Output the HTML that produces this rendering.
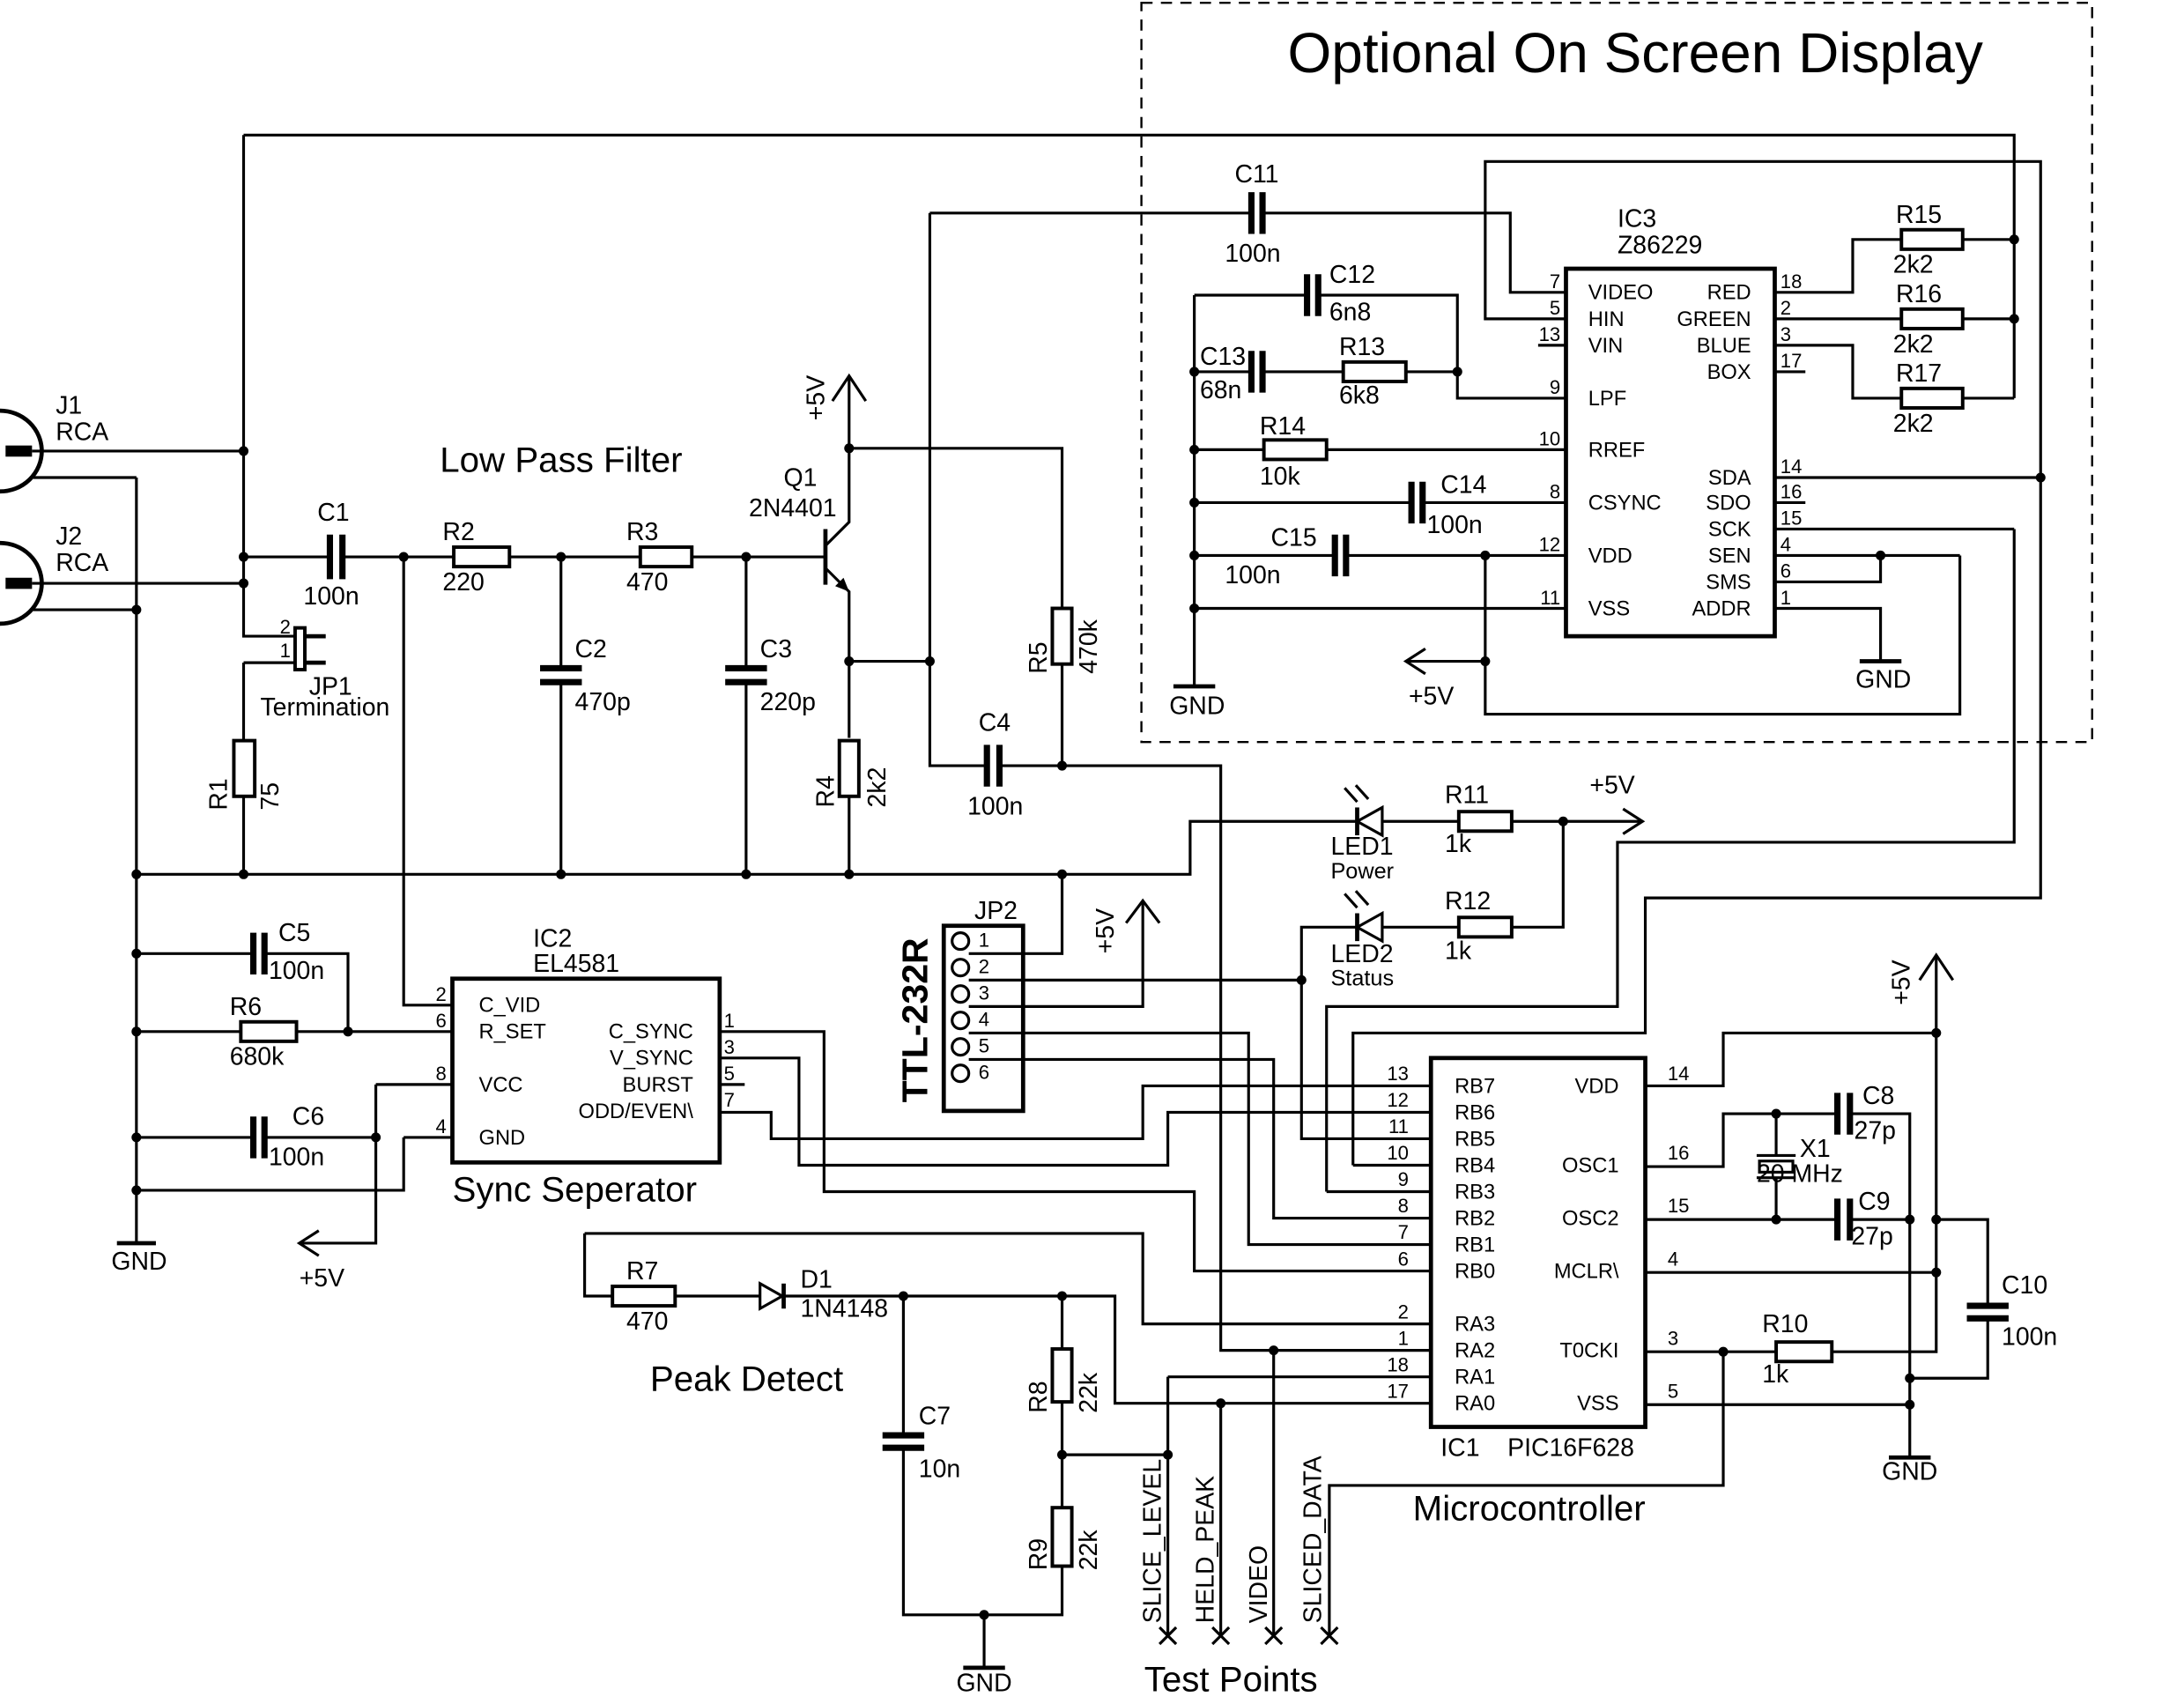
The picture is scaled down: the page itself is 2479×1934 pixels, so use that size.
<!DOCTYPE html>
<html><head><meta charset="utf-8">
<style>
html,body{margin:0;padding:0;background:#fff;}
svg{display:block;}
text{font-family:"Liberation Sans",Arial,sans-serif;fill:#000;}
.w{stroke:#000;stroke-width:2;fill:none;}
.p{stroke:#000;stroke-width:4.5;fill:none;}
.r{stroke:#000;stroke-width:2.5;fill:#fff;}
.b{stroke:#000;stroke-width:3;fill:none;}
.l{font-size:18px;}
.n{font-size:14px;}
.pn{font-size:15px;}
.big{font-size:25.5px;}
</style></head><body>
<svg width="2479" height="1934" viewBox="0 0 1569 1224" xmlns="http://www.w3.org/2000/svg">
<rect x="0" y="0" width="1569" height="1224" fill="#fff"/>
<rect x="820" y="2" width="683" height="531" fill="none" stroke="#000" stroke-width="1.5" stroke-dasharray="8,6"/>
<text x="925" y="52" style="font-size:40.5px">Optional On Screen Display</text>

<path class="b" d="M0,295 A30,29 0 0 1 0,353"/>
<rect x="4" y="320" width="19" height="8" fill="#000"/>
<path class="b" d="M0,390 A30,29 0 0 1 0,448"/>
<rect x="4" y="415" width="19" height="8" fill="#000"/>
<text x="40" y="297" class="l">J1</text><text x="40" y="316" class="l">RCA</text>
<text x="40" y="391" class="l">J2</text><text x="40" y="410" class="l">RCA</text>
<path class="w" d="M23,324H175 M24,343H98 M23,419H175 M24,438H98 M98,343V893"/>
<path class="w" d="M175,97H1447V286 M175,97V457H212 M175,476H212 M175,476V532 M175,572V628"/>
<rect x="212" y="451" width="7" height="30" class="r"/>
<path class="b" d="M219,457H234 M219,476H234"/>
<text x="201" y="455" class="n">2</text><text x="201" y="472" class="n">1</text>
<text x="222" y="499" class="l">JP1</text><text x="187" y="514" class="l">Termination</text>
<rect x="168" y="532" width="15" height="40" class="r"/>
<text transform="translate(163,582) rotate(-90)" class="l">R1</text>
<text transform="translate(200,582) rotate(-90)" class="l">75</text>

<path class="w" d="M175,400H236 M247,400H326 M366,400H460 M497,400H593"/>
<path class="p" d="M237,384V416 M246,384V416"/>
<rect x="326" y="393" width="40" height="14" class="r"/>
<rect x="460" y="393" width="37" height="14" class="r"/>
<text x="228" y="374" class="l">C1</text><text x="218" y="434" class="l">100n</text>
<text x="318" y="388" class="l">R2</text><text x="318" y="424" class="l">220</text>
<text x="450" y="388" class="l">R3</text><text x="450" y="424" class="l">470</text>
<text x="316" y="339" class="big">Low Pass Filter</text>
<path class="w" d="M290,400V722H325 M403,400V480 M403,490V628 M536,400V480 M536,490V628"/>
<path class="p" d="M388,480H418 M388,490H418 M521,480H551 M521,490H551"/>
<text x="413" y="472" class="l">C2</text><text x="413" y="510" class="l">470p</text>
<text x="546" y="472" class="l">C3</text><text x="546" y="510" class="l">220p</text>
<path class="b" d="M593,380V420"/>
<path class="w" d="M593,392L610,375V270 M593,408L610,425V530 M610,572V628"/>
<path d="M610,425L600,421L606,415Z" fill="#000"/>
<path class="w" d="M598,288L610,270L622,288"/>
<text transform="translate(592,302) rotate(-90)" class="l">+5V</text>
<text x="563" y="349" class="l">Q1</text><text x="538" y="371" class="l">2N4401</text>
<rect x="603" y="532" width="14" height="40" class="r"/>
<text transform="translate(599,580) rotate(-90)" class="l">R4</text>
<text transform="translate(636,580) rotate(-90)" class="l">2k2</text>
<path class="w" d="M610,322H763V437 M763,477V550 M610,475H668 M668,153V550H708 M718,550H877V970H1028"/>
<rect x="756" y="437" width="14" height="40" class="r"/>
<text transform="translate(752,484) rotate(-90)" class="l">R5</text>
<text transform="translate(788,484) rotate(-90)" class="l">470k</text>
<path class="p" d="M709,535V565 M718,535V565"/>
<text x="703" y="525" class="l">C4</text><text x="695" y="585" class="l">100n</text>
<path class="w" d="M98,628H855V590H975 M993,590H1048 M1086,590H1180 M1123,590V666H1086 M1048,666H993 M975,666H935V818H1028"/>
<path class="w" d="M1166,581L1180,590L1166,599"/>
<text x="1142" y="570" class="l">+5V</text>
<path d="M975,590L993,580V600Z" class="r" style="stroke-width:2"/><path class="b" d="M975,580V600"/>
<path d="M975,666L993,656V676Z" class="r" style="stroke-width:2"/><path class="b" d="M975,656V676"/>
<path class="w" d="M975,576L966,566 M983,574L974,564 M975,652L966,642 M983,650L974,640"/>
<rect x="1048" y="583" width="38" height="14" class="r"/>
<rect x="1048" y="659" width="38" height="14" class="r"/>
<text x="956" y="614" class="l">LED1</text><text x="956" y="631" style="font-size:16px">Power</text>
<text x="1038" y="577" class="l">R11</text><text x="1038" y="612" class="l">1k</text>
<text x="956" y="691" class="l">LED2</text><text x="956" y="708" style="font-size:16px">Status</text>
<text x="1038" y="653" class="l">R12</text><text x="1038" y="689" class="l">1k</text>

<path class="w" d="M98,685H181 M190,685H250V741 M98,741H173 M213,741H325 M98,817H181 M190,817H270 M270,779H325 M270,779V893H215 M290,817H325 M290,817V855H98"/>
<path class="p" d="M182,670V700 M190,670V700 M182,802V832 M190,802V832"/>
<rect x="173" y="734" width="40" height="14" class="r"/>
<path class="w" d="M229,884L215,893L229,902"/>
<text x="200" y="676" class="l">C5</text><text x="193" y="703" class="l">100n</text>
<text x="165" y="729" class="l">R6</text><text x="165" y="765" class="l">680k</text>
<text x="210" y="808" class="l">C6</text><text x="193" y="837" class="l">100n</text>
<text x="215" y="924" class="l">+5V</text>
<path class="b" d="M84,893H112"/><text x="80" y="912" class="l">GND</text>
<rect x="325" y="703" width="192" height="132" class="b" fill="none"/>
<text x="383" y="680" class="l">IC2</text><text x="383" y="698" class="l">EL4581</text>
<text x="344" y="727" class="pn">C_VID</text><text x="344" y="746" class="pn">R_SET</text>
<text x="344" y="784" class="pn">VCC</text><text x="344" y="822" class="pn">GND</text>
<text x="498" y="746" class="pn" text-anchor="end">C_SYNC</text>
<text x="498" y="765" class="pn" text-anchor="end">V_SYNC</text>
<text x="498" y="784" class="pn" text-anchor="end">BURST</text>
<text x="498" y="803" class="pn" text-anchor="end">ODD/EVEN\</text>
<text x="313" y="719" class="n">2</text><text x="313" y="738" class="n">6</text>
<text x="313" y="776" class="n">8</text><text x="313" y="814" class="n">4</text>
<text x="520" y="738" class="n">1</text><text x="520" y="757" class="n">3</text>
<text x="520" y="776" class="n">5</text><text x="520" y="795" class="n">7</text>
<text x="325" y="863" class="big">Sync Seperator</text>
<path class="w" d="M517,741H592V856H858V913H1028 M517,760H574V837H839V799H1028 M517,779H535 M517,799H554V818H821V780H1028"/>

<rect x="678" y="665" width="57" height="133" class="b" fill="none"/>
<g class="w">
<circle cx="690" cy="676" r="6"/><circle cx="690" cy="695" r="6"/><circle cx="690" cy="714" r="6"/>
<circle cx="690" cy="733" r="6"/><circle cx="690" cy="752" r="6"/><circle cx="690" cy="771" r="6"/>
</g>
<text x="703" y="680" class="n">1</text><text x="703" y="699" class="n">2</text><text x="703" y="718" class="n">3</text>
<text x="703" y="737" class="n">4</text><text x="703" y="756" class="n">5</text><text x="703" y="775" class="n">6</text>
<text x="700" y="660" class="l">JP2</text>
<text transform="translate(666,792) rotate(-90)" style="font-size:26px;font-weight:bold">TTL-232R</text>
<path class="w" d="M696,685H763V628 M696,704H935 M696,723H821V647 M696,742H897V894H1028 M696,761H915V875H1028"/>
<path class="w" d="M809,663L821,647L833,663"/>
<text transform="translate(800,685) rotate(-90)" class="l">+5V</text>
<path class="w" d="M953,856H1028 M953,856V723H1162V605H1447V380 M972,837H1028 M972,837V742H1182V645H1466V116H1067V229H1125"/>

<rect x="1125" y="193" width="150" height="264" class="b" fill="none"/>
<text x="1162" y="163" class="l">IC3</text><text x="1162" y="182" class="l">Z86229</text>
<g class="pn">
<text x="1141" y="215">VIDEO</text><text x="1141" y="234">HIN</text><text x="1141" y="253">VIN</text>
<text x="1141" y="291">LPF</text><text x="1141" y="328">RREF</text><text x="1141" y="366">CSYNC</text>
<text x="1141" y="404">VDD</text><text x="1141" y="442">VSS</text>
<text x="1258" y="215" text-anchor="end">RED</text><text x="1258" y="234" text-anchor="end">GREEN</text>
<text x="1258" y="253" text-anchor="end">BLUE</text><text x="1258" y="272" text-anchor="end">BOX</text>
<text x="1258" y="348" text-anchor="end">SDA</text><text x="1258" y="366" text-anchor="end">SDO</text>
<text x="1258" y="385" text-anchor="end">SCK</text><text x="1258" y="404" text-anchor="end">SEN</text>
<text x="1258" y="423" text-anchor="end">SMS</text><text x="1258" y="442" text-anchor="end">ADDR</text>
</g>
<g class="n">
<text x="1121" y="207" text-anchor="end">7</text><text x="1121" y="226" text-anchor="end">5</text>
<text x="1121" y="245" text-anchor="end">13</text><text x="1121" y="283" text-anchor="end">9</text>
<text x="1121" y="320" text-anchor="end">10</text><text x="1121" y="358" text-anchor="end">8</text>
<text x="1121" y="396" text-anchor="end">12</text><text x="1121" y="434" text-anchor="end">11</text>
<text x="1279" y="207">18</text><text x="1279" y="226">2</text><text x="1279" y="245">3</text>
<text x="1279" y="264">17</text><text x="1279" y="340">14</text><text x="1279" y="358">16</text>
<text x="1279" y="377">15</text><text x="1279" y="396">4</text><text x="1279" y="415">6</text>
<text x="1279" y="434">1</text>
</g>
<path class="w" d="M668,153H898 M908,153H1085V210H1125 M1105,248H1125"/>
<path class="p" d="M899,138V168 M907,138V168"/>
<text x="887" y="131" class="l">C11</text><text x="880" y="188" class="l">100n</text>
<path class="w" d="M858,212H938 M948,212H1047V286H1125 M858,267H898 M908,267H965 M1010,267H1047 M858,212V493 M858,323H908 M953,323H1125 M858,361H1013 M1023,361H1125 M858,399H958 M968,399H1125 M858,437H1125 M1067,399V513H1408V399 M1067,475H1010"/>
<path class="w" d="M1024,466L1010,475L1024,484"/>
<path class="p" d="M939,197V227 M947,197V227 M899,252V282 M907,252V282 M1014,346V376 M1022,346V376 M959,384V414 M967,384V414"/>
<rect x="965" y="260" width="45" height="14" class="r"/>
<rect x="908" y="316" width="45" height="14" class="r"/>
<text x="955" y="203" class="l">C12</text><text x="955" y="230" class="l">6n8</text>
<text x="862" y="262" class="l">C13</text><text x="862" y="286" class="l">68n</text>
<text x="962" y="255" class="l">R13</text><text x="962" y="290" class="l">6k8</text>
<text x="905" y="312" class="l">R14</text><text x="905" y="348" class="l">10k</text>
<text x="1035" y="354" class="l">C14</text><text x="1025" y="383" class="l">100n</text>
<text x="913" y="392" class="l">C15</text><text x="880" y="419" class="l">100n</text>
<text x="1012" y="506" class="l">+5V</text>
<path class="b" d="M843,493H873"/><text x="840" y="513" class="l">GND</text>
<path class="w" d="M1275,210H1331V172H1366 M1410,172H1447 M1275,229H1366 M1410,229H1447 M1275,248H1331V286H1366 M1410,286H1447 M1275,267H1297 M1275,361H1297 M1275,343H1466 M1275,380H1447 M1275,399H1408 M1275,418H1351V399 M1275,437H1351V475"/>
<rect x="1366" y="165" width="44" height="14" class="r"/>
<rect x="1366" y="222" width="44" height="14" class="r"/>
<rect x="1366" y="279" width="44" height="14" class="r"/>
<text x="1362" y="160" class="l">R15</text><text x="1360" y="196" class="l">2k2</text>
<text x="1362" y="217" class="l">R16</text><text x="1360" y="253" class="l">2k2</text>
<text x="1362" y="274" class="l">R17</text><text x="1360" y="310" class="l">2k2</text>
<path class="b" d="M1336,475H1366"/><text x="1333" y="494" class="l">GND</text>

<rect x="1028" y="760" width="154" height="265" class="b" fill="none"/>
<g class="pn">
<text x="1045" y="785">RB7</text><text x="1045" y="804">RB6</text><text x="1045" y="823">RB5</text>
<text x="1045" y="842">RB4</text><text x="1045" y="861">RB3</text><text x="1045" y="880">RB2</text>
<text x="1045" y="899">RB1</text><text x="1045" y="918">RB0</text><text x="1045" y="956">RA3</text>
<text x="1045" y="975">RA2</text><text x="1045" y="994">RA1</text><text x="1045" y="1013">RA0</text>
<text x="1163" y="785" text-anchor="end">VDD</text><text x="1163" y="842" text-anchor="end">OSC1</text>
<text x="1163" y="880" text-anchor="end">OSC2</text><text x="1163" y="918" text-anchor="end">MCLR\</text>
<text x="1163" y="975" text-anchor="end">T0CKI</text><text x="1163" y="1013" text-anchor="end">VSS</text>
</g>
<g class="n">
<text x="1012" y="776" text-anchor="end">13</text><text x="1012" y="795" text-anchor="end">12</text>
<text x="1012" y="814" text-anchor="end">11</text><text x="1012" y="833" text-anchor="end">10</text>
<text x="1012" y="852" text-anchor="end">9</text><text x="1012" y="871" text-anchor="end">8</text>
<text x="1012" y="890" text-anchor="end">7</text><text x="1012" y="909" text-anchor="end">6</text>
<text x="1012" y="947" text-anchor="end">2</text><text x="1012" y="966" text-anchor="end">1</text>
<text x="1012" y="985" text-anchor="end">18</text><text x="1012" y="1004" text-anchor="end">17</text>
<text x="1198" y="776">14</text><text x="1198" y="833">16</text><text x="1198" y="871">15</text>
<text x="1198" y="909">4</text><text x="1198" y="966">3</text><text x="1198" y="1004">5</text>
</g>
<text x="1035" y="1046" class="l">IC1</text><text x="1083" y="1046" class="l">PIC16F628</text>
<text x="1015" y="1092" class="big">Microcontroller</text>
<path class="w" d="M1182,780H1238V742H1391 M1391,686V971H1316 M1276,971H1182 M1182,838H1238V800H1319 M1330,800H1372V1047 M1276,800V830 M1276,846V876 M1182,876H1319 M1330,876H1372 M1391,876H1428V937 M1428,947V990H1372 M1182,914H1391 M1182,1009H1372 M1238,971V1067H955V1175"/>
<path class="w" d="M1379,704L1391,686L1403,704"/>
<text transform="translate(1372,722) rotate(-90)" class="l">+5V</text>
<path class="p" d="M1320,785V815 M1329,785V815 M1320,861V891 M1329,861V891 M1413,938H1443 M1413,947H1443"/>
<rect x="1264" y="834" width="24" height="8" class="r" style="stroke-width:2"/>
<path class="w" d="M1262,830H1290 M1262,846H1290"/>
<rect x="1276" y="964" width="40" height="14" class="r"/>
<path class="b" d="M1357,1047H1387"/><text x="1352" y="1063" class="l">GND</text>
<text x="1338" y="793" class="l">C8</text><text x="1332" y="818" class="l">27p</text>
<text x="1293" y="831" class="l">X1</text><text x="1262" y="849" class="l">20 MHz</text>
<text x="1335" y="869" class="l">C9</text><text x="1330" y="894" class="l">27p</text>
<text x="1438" y="929" class="l">C10</text><text x="1438" y="966" class="l">100n</text>
<text x="1266" y="957" class="l">R10</text><text x="1266" y="993" class="l">1k</text>

<path class="w" d="M420,886H821V951H1028 M420,886V931H440 M485,931H546 M564,931H801V1008H1028 M649,931V1030 M649,1040V1160H763V1125 M707,1160V1198 M763,931V969 M763,1007V1083 M763,1045H839 M839,989H1028 M839,989V1175 M877,1008V1175 M915,970V1175"/>
<rect x="440" y="924" width="45" height="14" class="r"/>
<path d="M546,922L562,931L546,940Z" class="r" style="stroke-width:2"/><path class="b" d="M563,922V940"/>
<path class="p" d="M634,1031H664 M634,1040H664"/>
<rect x="756" y="969" width="14" height="38" class="r"/>
<rect x="756" y="1083" width="14" height="42" class="r"/>
<path class="b" d="M692,1198H722"/><text x="687" y="1215" class="l">GND</text>
<text x="450" y="919" class="l">R7</text><text x="450" y="955" class="l">470</text>
<text x="575" y="925" class="l">D1</text><text x="575" y="946" class="l">1N4148</text>
<text x="467" y="999" class="big">Peak Detect</text>
<text x="660" y="1023" class="l">C7</text><text x="660" y="1061" class="l">10n</text>
<text transform="translate(752,1015) rotate(-90)" class="l">R8</text>
<text transform="translate(788,1015) rotate(-90)" class="l">22k</text>
<text transform="translate(752,1128) rotate(-90)" class="l">R9</text>
<text transform="translate(788,1128) rotate(-90)" class="l">22k</text>
<path class="w" d="M833,1169L845,1181M845,1169L833,1181 M871,1169L883,1181M883,1169L871,1181 M909,1169L921,1181M921,1169L909,1181 M949,1169L961,1181M961,1169L949,1181"/>
<text transform="translate(834,1166) rotate(-90)" class="l">SLICE_LEVEL</text>
<text transform="translate(872,1166) rotate(-90)" class="l">HELD_PEAK</text>
<text transform="translate(910,1166) rotate(-90)" class="l">VIDEO</text>
<text transform="translate(949,1166) rotate(-90)" class="l">SLICED_DATA</text>
<text x="822" y="1215" class="big">Test Points</text>

<g fill="#000">
<circle cx="175" cy="324" r="3.5"/><circle cx="175" cy="400" r="3.5"/><circle cx="175" cy="419" r="3.5"/>
<circle cx="98" cy="438" r="3.5"/><circle cx="98" cy="628" r="3.5"/><circle cx="175" cy="628" r="3.5"/>
<circle cx="290" cy="400" r="3.5"/><circle cx="403" cy="400" r="3.5"/><circle cx="536" cy="400" r="3.5"/>
<circle cx="403" cy="628" r="3.5"/><circle cx="536" cy="628" r="3.5"/><circle cx="610" cy="628" r="3.5"/>
<circle cx="763" cy="628" r="3.5"/><circle cx="610" cy="322" r="3.5"/><circle cx="610" cy="475" r="3.5"/>
<circle cx="668" cy="475" r="3.5"/><circle cx="763" cy="550" r="3.5"/>
<circle cx="98" cy="685" r="3.5"/><circle cx="98" cy="741" r="3.5"/><circle cx="98" cy="817" r="3.5"/>
<circle cx="98" cy="855" r="3.5"/><circle cx="250" cy="741" r="3.5"/><circle cx="270" cy="817" r="3.5"/>
<circle cx="1123" cy="590" r="3.5"/><circle cx="935" cy="704" r="3.5"/>
<circle cx="858" cy="267" r="3.5"/><circle cx="858" cy="323" r="3.5"/><circle cx="858" cy="361" r="3.5"/>
<circle cx="858" cy="399" r="3.5"/><circle cx="858" cy="437" r="3.5"/><circle cx="1047" cy="267" r="3.5"/>
<circle cx="1067" cy="399" r="3.5"/><circle cx="1067" cy="475" r="3.5"/><circle cx="1351" cy="399" r="3.5"/>
<circle cx="1447" cy="172" r="3.5"/><circle cx="1447" cy="229" r="3.5"/><circle cx="1466" cy="343" r="3.5"/>
<circle cx="1391" cy="742" r="3.5"/><circle cx="1276" cy="800" r="3.5"/><circle cx="1276" cy="876" r="3.5"/>
<circle cx="1372" cy="876" r="3.5"/><circle cx="1391" cy="876" r="3.5"/><circle cx="1391" cy="914" r="3.5"/>
<circle cx="1372" cy="990" r="3.5"/><circle cx="1372" cy="1009" r="3.5"/><circle cx="1238" cy="971" r="3.5"/>
<circle cx="649" cy="931" r="3.5"/><circle cx="763" cy="931" r="3.5"/><circle cx="763" cy="1045" r="3.5"/>
<circle cx="839" cy="1045" r="3.5"/><circle cx="877" cy="1008" r="3.5"/><circle cx="915" cy="970" r="3.5"/>
<circle cx="707" cy="1160" r="3.5"/>
</g>
</svg>
</body></html>
